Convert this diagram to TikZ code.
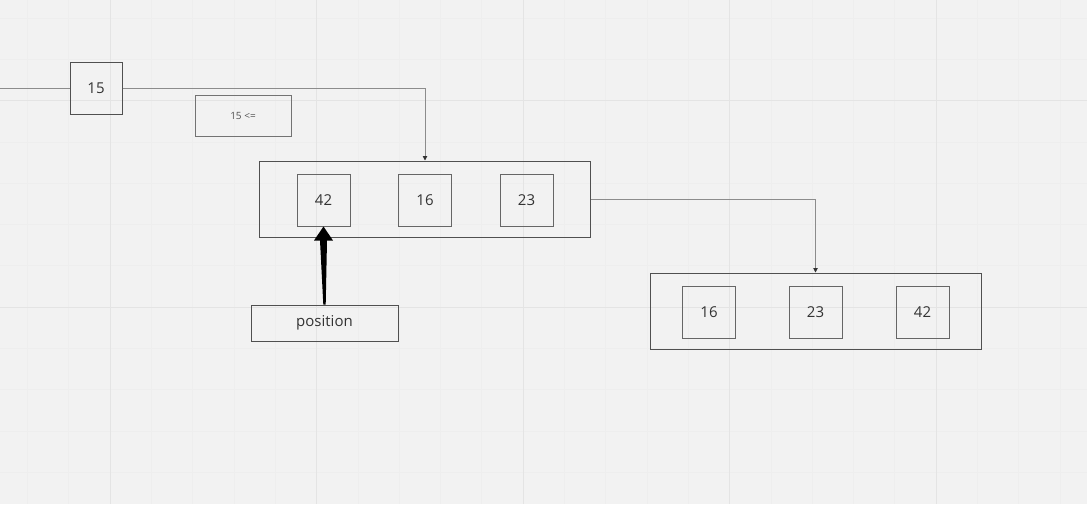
\documentclass[tikz,border=0pt]{standalone}
\usepackage{xcolor}
\usepackage{fontspec}
\setmainfont{Open Sans}
\usetikzlibrary{calc,arrows.meta}

\definecolor{paper}{HTML}{F2F2F2}
\definecolor{gridminor}{HTML}{EEEEEE}
\definecolor{gridmajor}{HTML}{E4E4E4}
\definecolor{frame}{HTML}{505050}
\definecolor{cell}{HTML}{666666}
\definecolor{wire}{HTML}{8C8C8C}
\definecolor{ink}{HTML}{333333}

\tikzset{
    box/.style={draw=frame, line width=1pt, inner sep=0pt, text=ink,
        font=\fontsize{15}{18}\selectfont},
    cellbox/.style={box, draw=cell, minimum width=53pt, minimum height=52pt},
    holder/.style={box, minimum width=331pt, minimum height=76pt},
    wirearrow/.style={draw=wire, line width=0.9pt, -{Triangle[width=4.5pt,length=4.5pt,color=black!80]}}
}

\begin{document}
\begin{tikzpicture}[x=1pt, y=-1pt]
            \fill[paper] (0, 0) rectangle (1087, 504);
            \useasboundingbox (0, 0) rectangle (1087, 504);

            \foreach \gx in {27.4, 68.7, ..., 1087} {\draw[gridminor, line width=0.6pt] (\gx, 0) -- (\gx, 504);}
            \foreach \gy in {17.9, 59.2, ..., 504} {\draw[gridminor, line width=0.6pt] (0, \gy) -- (1087, \gy);}
            \foreach \gx in {110, 316.5, 523, 729.5, 936} {\draw[gridmajor, line width=0.9pt] (\gx, 0) -- (\gx, 504);}
            \foreach \gy in {100.5, 307} {\draw[gridmajor, line width=0.9pt] (0, \gy) -- (1087, \gy);}

            \node[box, minimum width=52pt, minimum height=52pt] (key) at (96, 88) {15};
            \node[box, draw=frame!80, minimum width=96pt, minimum height=41pt,
                text=frame, font=\fontsize{10}{12}\selectfont] (cmp) at (243, 115.5) {15 <=};

            \node[holder] (before) at (425, 199) {};
            \node[cellbox] (b42) at (323.5, 200) {42};
            \node[cellbox] (b16) at (425, 200) {16};
            \node[cellbox] (b23) at (526.5, 200) {23};

            \node[holder] (after) at (815.5, 311) {};
            \node[cellbox] (a16) at (709, 312) {16};
            \node[cellbox] (a23) at (815.5, 312) {23};
            \node[cellbox] (a42) at (922.5, 312) {42};

            \node[box, minimum width=147pt, minimum height=36pt] (pos) at (324.5, 323) {position};

            \coordinate (incoming) at (0, 88);
            \draw[draw=wire, line width=0.9pt] (incoming) -- (key.west);
            \draw[wirearrow] (key.east) -| (before.north);
            \draw[wirearrow] (before.east) -| (after.north);

            \fill[black] (b42.south) -- ++(-9.5, 14) -- ++(6, 0)
                -- ($(pos.north)+(-1.2, 0)$) -- ($(pos.north)+(1.2, 0)$)
                -- ($(b42.south)+(3.5, 14)$) -- ++(6, 0) -- cycle;
        \end{tikzpicture}
\end{document}
